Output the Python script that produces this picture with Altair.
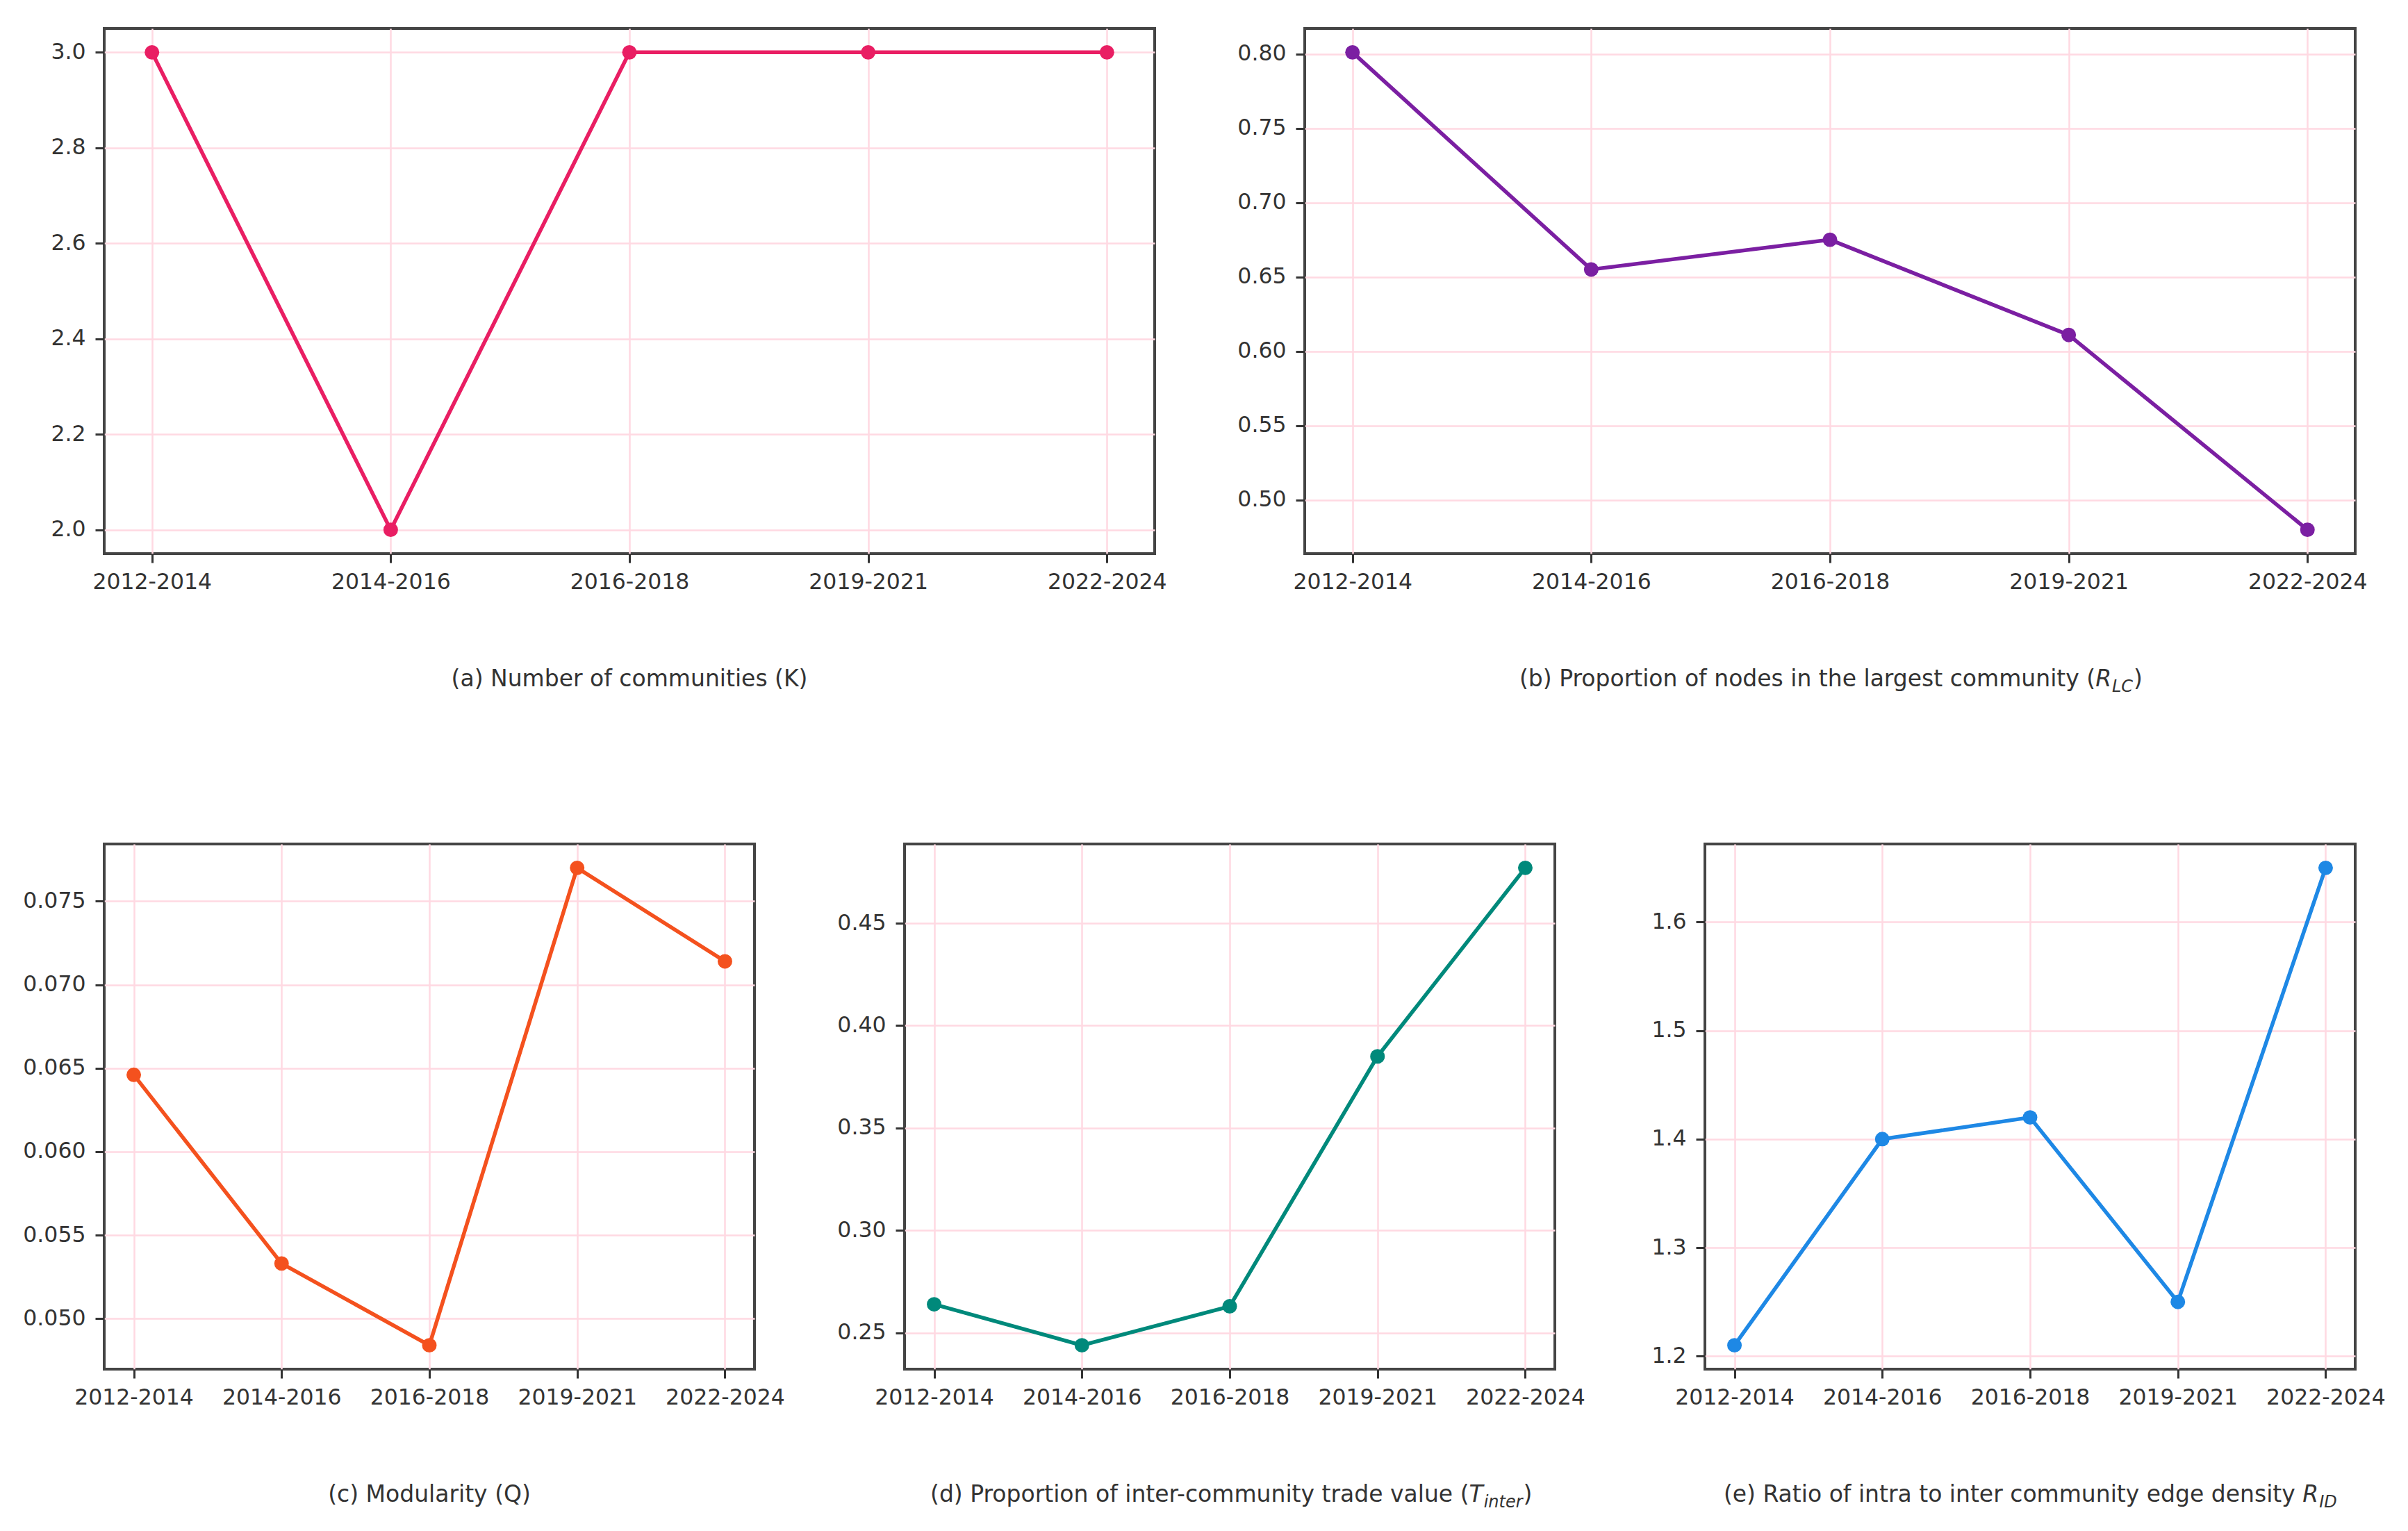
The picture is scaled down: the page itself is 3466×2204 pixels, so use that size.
import altair as alt
import pandas as pd

# ---------------- data ----------------
periods = ["2012-2014", "2014-2016", "2016-2018", "2019-2021", "2022-2024"]

k_values = [3, 2, 3, 3, 3]
rlc_values = [0.801, 0.655, 0.675, 0.611, 0.480]
q_values = [0.0646, 0.0533, 0.0484, 0.0770, 0.0714]
tinter_values = [0.264, 0.244, 0.263, 0.385, 0.477]
rid_values = [1.21, 1.40, 1.42, 1.25, 1.65]

k_ticks = [2.0, 2.2, 2.4, 2.6, 2.8, 3.0]
rlc_ticks = [0.50, 0.55, 0.60, 0.65, 0.70, 0.75, 0.80]
q_ticks = [0.050, 0.055, 0.060, 0.065, 0.070, 0.075]
tinter_ticks = [0.25, 0.30, 0.35, 0.40, 0.45]
rid_ticks = [1.2, 1.3, 1.4, 1.5, 1.6]

title_a = ["(a) Number of communities (K)"]
title_b = ["(b) Proportion of nodes in the largest community (", "R", "LC", ")"]
title_c = ["(c) Modularity (Q)"]
title_d = ["(d) Proportion of inter-community trade value (", "T", "inter", ")"]
title_e = ["(e) Ratio of intra to inter community edge density", "R", "ID"]

colors = ["#e91e63", "#7b1fa2", "#f4511e", "#00897b", "#1e88e5"]

# ---------------- style ----------------
FONT = "DejaVu Sans"
TXT = "#333333"
H = 756
W_TOP = 1512
W_BOT = 936
TITLE_SIZE = 33
SUB_SIZE = 24
TITLE_BASE = H + 191
SUB_DROP = 8

one_row = pd.DataFrame({"k": [0]})


def text_piece(s, x, align, size, italic=False, dy=0):
    kw = dict(text=s, align=align, baseline="alphabetic", fontSize=size,
              font=FONT, color=TXT)
    if italic:
        kw["fontStyle"] = "italic"
    return alt.Chart(one_row).mark_text(**kw).encode(
        x=alt.value(x), y=alt.value(TITLE_BASE + dy)
    )


def panel(values, ticks, fmt, color, width, titles):
    df = pd.DataFrame({"period": periods, "value": values})
    lo, hi = min(values), max(values)
    m = 0.05 * (hi - lo)
    x = alt.X(
        "period:N",
        sort=periods,
        scale=alt.Scale(type="point", padding=0.2),
        axis=alt.Axis(title=None, labelAngle=0, grid=True, labelPadding=12,
                      labelOverlap=False),
    )
    y = alt.Y(
        "value:Q",
        scale=alt.Scale(domain=[lo - m, hi + m], nice=False, zero=False),
        axis=alt.Axis(title=None, values=ticks, format=fmt, grid=True,
                      labelPadding=14, minExtent=130, maxExtent=130),
    )
    base = alt.Chart(df).encode(x=x, y=y)
    line = base.mark_line(color=color, strokeWidth=5.5)
    pts = base.mark_point(filled=True, size=440, color=color, opacity=1)
    return alt.layer(line, pts, *titles).properties(width=width, height=H)


# titles (positions computed from DejaVu Sans advance widths)
ta = [text_piece(title_a[0], W_TOP / 2, "center", TITLE_SIZE)]
tb = [
    text_piece(title_b[0], 1138.2, "right", TITLE_SIZE),
    text_piece(title_b[1], 1138.2, "left", TITLE_SIZE, italic=True),
    text_piece(title_b[2], 1162.0, "left", SUB_SIZE, italic=True, dy=SUB_DROP),
    text_piece(title_b[3], 1193.0, "left", TITLE_SIZE),
]
tc = [text_piece(title_c[0], W_BOT / 2, "center", TITLE_SIZE)]
td = [
    text_piece(title_d[0], 812.5, "right", TITLE_SIZE),
    text_piece(title_d[1], 812.5, "left", TITLE_SIZE, italic=True),
    text_piece(title_d[2], 833.7, "left", SUB_SIZE, italic=True, dy=SUB_DROP),
    text_piece(title_d[3], 890.5, "left", TITLE_SIZE),
]
te = [
    text_piece(title_e[0], 849.8, "right", TITLE_SIZE),
    text_piece(title_e[1], 860.3, "left", TITLE_SIZE, italic=True),
    text_piece(title_e[2], 884.2, "left", SUB_SIZE, italic=True, dy=SUB_DROP),
]

pa = panel(k_values, k_ticks, ".1f", colors[0], W_TOP, ta)
pb = panel(rlc_values, rlc_ticks, ".2f", colors[1], W_TOP, tb)
pc = panel(q_values, q_ticks, ".3f", colors[2], W_BOT, tc)
pd_ = panel(tinter_values, tinter_ticks, ".2f", colors[3], W_BOT, td)
pe = panel(rid_values, rid_ticks, ".1f", colors[4], W_BOT, te)

row1 = alt.hconcat(pa, pb, spacing=216, bounds="flush")
row2 = alt.hconcat(pc, pd_, pe, spacing=216, bounds="flush")

chart = (
    alt.vconcat(row1, row2, spacing=210)
    .properties(padding={"left": 18, "top": 39, "right": 0, "bottom": 0},
                background="white")
    .configure_view(stroke="#444444", strokeWidth=4)
    .configure_axis(
        domain=False,
        labelFont=FONT,
        labelFontSize=31.5,
        labelColor=TXT,
        tickColor=TXT,
        tickWidth=3,
        tickSize=13,
        gridColor="#ffd9e2",
        gridWidth=2.5,
    )
)

chart.save("out.html", embed_options={"renderer": "svg", "actions": False})
